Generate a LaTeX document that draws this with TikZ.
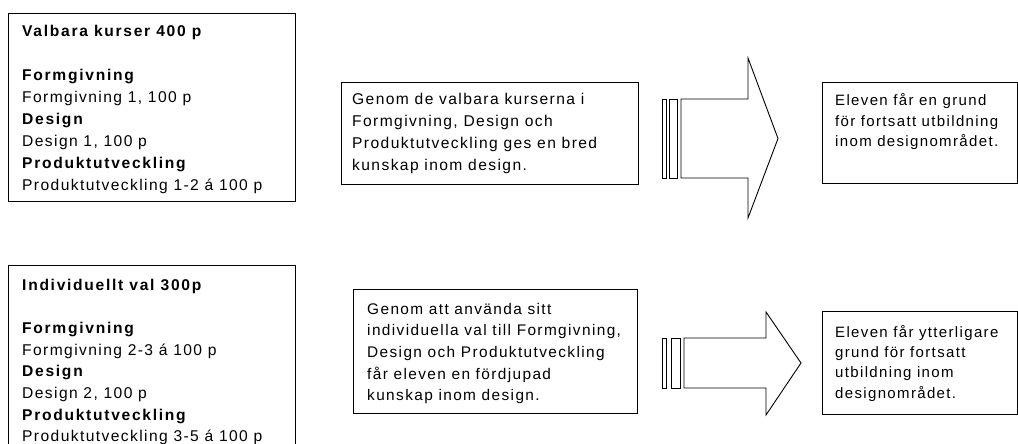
\documentclass[tikz,border=0pt]{standalone}
\usepackage{fontspec}
\newfontfamily\fnt[LetterSpace=9,BoldFeatures={LetterSpace=11}]{Liberation Sans}
\newcommand{\txtsize}[2]{\fontsize{#1}{#2}\selectfont}
\tikzset{
  box/.style={draw, line width=1.1pt, anchor=north west, inner sep=0pt},
  txt/.style={anchor=base west, inner sep=0pt, font=\fnt},
  arr/.style={draw, line width=0.9pt, line join=miter, fill=white}
}
\begin{document}
\begin{tikzpicture}[x=1pt, y=-1pt]
\useasboundingbox (0,0) rectangle (1018,444);
\clip (0,0) rectangle (1018,444);
% left boxes
\node[box, minimum width=287pt, minimum height=188pt] (b1) at (8,13) {};
\node[txt] (t1) at (22,37) {\parbox[t]{280pt}{\txtsize{15.6pt}{21.9pt}\textbf{Valbara kurser 400 p}\\ \mbox{}\\ \textbf{Formgivning}\\ Formgivning 1, 100 p\\ \textbf{Design}\\ Design 1, 100 p\\ \textbf{Produktutveckling}\\ Produktutveckling 1-2 á 100 p}};
\node[box, minimum width=287pt, minimum height=200pt] (b2) at (8,265) {};
\node[txt] (t2) at (22,290) {\parbox[t]{280pt}{\txtsize{15.6pt}{21.7pt}\textbf{Individuellt val 300p}\\ \mbox{}\\ \textbf{Formgivning}\\ Formgivning 2-3 á 100 p\\ \textbf{Design}\\ Design 2, 100 p\\ \textbf{Produktutveckling}\\ Produktutveckling 3-5 á 100 p}};
% middle boxes
\node[box, minimum width=297pt, minimum height=102pt] (b3) at (341,82) {};
\node[txt] (t3) at (352,105) {\parbox[t]{290pt}{\txtsize{15.6pt}{21.7pt}Genom de valbara kurserna i\\ Formgivning, Design och\\ Produktutveckling ges en bred\\ kunskap inom design.}};
\node[box, minimum width=284pt, minimum height=124pt] (b4) at (353,289) {};
\node[txt] (t4) at (367,314) {\parbox[t]{280pt}{\txtsize{15.4pt}{21.7pt}Genom att använda sitt\\ individuella val till Formgivning,\\ Design och Produktutveckling\\ får eleven en fördjupad\\ kunskap inom design.}};
% arrows
\draw[arr] (662,99) rectangle (666,178);
\draw[arr] (669,99) rectangle (677,178);
\draw[arr] (681,99) -- (748,99) -- (748,58) -- (778,138.5) -- (748,218) -- (748,178) -- (681,178) -- cycle;
\draw[arr] (662,338) rectangle (666,388);
\draw[arr] (671,338) rectangle (680,388);
\draw[arr] (684,338) -- (766,338) -- (766,312) -- (801,363) -- (766,415) -- (766,388) -- (684,388) -- cycle;
% right boxes
\node[box, minimum width=195pt, minimum height=101pt] (b5) at (822,82) {};
\node[txt] (t5) at (835,106) {\parbox[t]{180pt}{\txtsize{15pt}{20.5pt}Eleven får en grund\\ för fortsatt utbildning\\ inom designområdet.}};
\node[box, minimum width=195pt, minimum height=103pt] (b6) at (822,311) {};
\node[txt] (t6) at (835,337) {\parbox[t]{180pt}{\txtsize{15pt}{20.4pt}Eleven får ytterligare\\ grund för fortsatt\\ utbildning inom\\ designområdet.}};
\end{tikzpicture}
\end{document}
